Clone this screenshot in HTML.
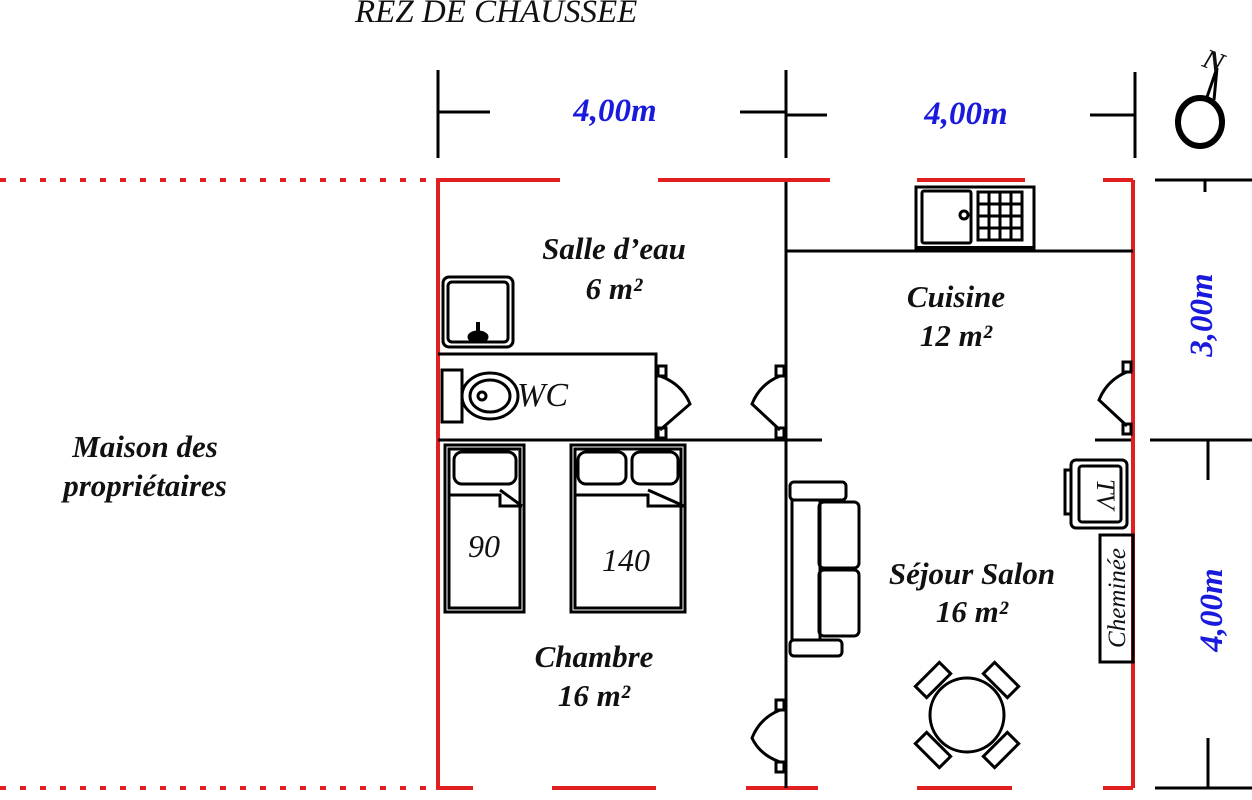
<!DOCTYPE html>
<html><head><style>body{margin:0;background:#fff}svg{display:block}
text{font-family:"Liberation Serif",serif;font-style:italic;font-weight:bold;fill:#111}
.b{fill:#1a1adc}</style></head><body>
<svg width="1252" height="800" viewBox="0 0 1252 800" xmlns="http://www.w3.org/2000/svg">
<text x="355" y="22" font-size="33" style="font-weight:normal">REZ DE CHAUSSEE</text>
<g stroke="#000" stroke-width="3" fill="none">
<path d="M438 70V158M438 112H490M740 112H786M786 70V158M786 115H827M1090 115H1135M1135 72V158"/>
<path d="M1155 180H1252M1205 180V192M1150 440H1252M1208 440V480M1208 738V788M1155 788H1252"/>
<ellipse cx="1200" cy="122" rx="22" ry="24" stroke-width="6"/>
<path d="M1206 100L1217 68L1214 100"/>
</g>
<text x="1204" y="70" font-size="28" transform="rotate(20 1214 60)">N</text>
<text x="615" y="121" font-size="33" class="b" text-anchor="middle">4,00m</text>
<text x="966" y="124" font-size="33" class="b" text-anchor="middle">4,00m</text>
<text font-size="33" class="b" text-anchor="middle" transform="translate(1212 315) rotate(-90)">3,00m</text>
<text font-size="33" class="b" text-anchor="middle" transform="translate(1222 610) rotate(-90)">4,00m</text>
<g stroke="#e02020" stroke-width="4" fill="none">
<path d="M0 180H430M0 788H430" stroke-dasharray="6 14"/>
<path d="M438 180V788M1133 180V788"/>
<path d="M436 180H560M658 180H830M917 180H1025M1103 180H1133"/>
<path d="M436 788H473M552 788H656M746 788H818M917 788H1012M1103 788H1133"/>
</g>
<g stroke="#000" stroke-width="3" fill="none">
<path d="M786 182V788M786 251H1133M438 440H822M1095 440H1131M438 354H656V440"/>
<path d="M658 366h8v10h-8zM658 428h8v10h-8z"/>
<path d="M660 376Q682 384 690 404L660 430"/>
<path d="M784 366h-8v10h8zM784 428h-8v10h8z"/>
<path d="M780 376Q760 384 752 404L780 430"/>
<path d="M1131 362h-8v10h8zM1131 424h-8v10h8z"/>
<path d="M1127 372Q1107 380 1099 400L1127 426"/>
<path d="M784 700h-8v10h8zM784 762h-8v10h8z"/>
<path d="M780 710Q760 718 752 738Q760 755 780 762"/>
<rect x="443" y="277" width="70" height="70" rx="6"/><rect x="448" y="282" width="60" height="60" rx="4"/>
<path d="M478 340V322" stroke-width="4"/><ellipse cx="478" cy="337" rx="9" ry="5" fill="#000"/>
<rect x="442" y="370" width="20" height="52"/>
<ellipse cx="490" cy="396" rx="28" ry="23"/><ellipse cx="490" cy="396" rx="20" ry="16"/><circle cx="482" cy="396" r="4"/>
<rect x="445" y="445" width="79" height="167"/><rect x="449" y="449" width="71" height="159"/>
<rect x="454" y="452" width="62" height="32" rx="8"/>
<path d="M450 495H500V506H522M500 490L522 506"/>
<rect x="571" y="445" width="114" height="167"/><rect x="575" y="449" width="106" height="159"/>
<rect x="578" y="452" width="48" height="32" rx="8"/><rect x="632" y="452" width="46" height="32" rx="8"/>
<path d="M576 495H648V506H684M648 490L684 506"/>
<rect x="916" y="187" width="118" height="63"/>
<rect x="922" y="191" width="49" height="52" rx="2"/><circle cx="964" cy="215" r="4"/>
<rect x="978" y="192" width="44" height="48"/>
<path d="M989 192V240M1000 192V240M1011 192V240M978 204H1022M978 216H1022M978 228H1022"/>
<path d="M916 248H1034" stroke-width="4"/>
<rect x="790" y="482" width="56" height="18" rx="4"/><rect x="790" y="640" width="52" height="16" rx="4"/>
<rect x="792" y="500" width="28" height="140"/>
<rect x="819" y="502" width="40" height="66" rx="5"/><rect x="819" y="570" width="40" height="66" rx="5"/>
<rect x="1071" y="460" width="56" height="68" rx="5"/><rect x="1079" y="466" width="42" height="56" rx="3"/>
<path d="M1071 470h-6v44h6"/>
<rect x="1100" y="535" width="33" height="127"/>
<circle cx="967" cy="715" r="37"/>
<g transform="rotate(-45 933 680)"><rect x="916" y="672" width="34" height="16"/></g>
<g transform="rotate(45 1001 680)"><rect x="984" y="672" width="34" height="16"/></g>
<g transform="rotate(45 933 750)"><rect x="916" y="742" width="34" height="16"/></g>
<g transform="rotate(-45 1001 750)"><rect x="984" y="742" width="34" height="16"/></g>
</g>
<text font-size="26" text-anchor="middle" transform="translate(1097 494) rotate(90)" style="font-weight:normal">TV</text>
<text font-size="25" text-anchor="middle" transform="translate(1125 598) rotate(-90)" style="font-weight:normal">Cheminée</text>
<g font-size="31" text-anchor="middle">
<text x="614" y="259">Salle d’eau</text><text x="614" y="299">6 m²</text>
<text x="956" y="307">Cuisine</text><text x="956" y="346">12 m²</text>
<text x="972" y="584">Séjour Salon</text><text x="972" y="622">16 m²</text>
<text x="594" y="667">Chambre</text><text x="594" y="706">16 m²</text>
<text x="145" y="457">Maison des</text><text x="145" y="496">propriétaires</text>
</g>
<text x="517" y="406" font-size="34" style="font-weight:normal">WC</text>
<text x="484" y="557" font-size="32" text-anchor="middle" style="font-weight:normal">90</text>
<text x="626" y="571" font-size="32" text-anchor="middle" style="font-weight:normal">140</text>
</svg>
</body></html>
